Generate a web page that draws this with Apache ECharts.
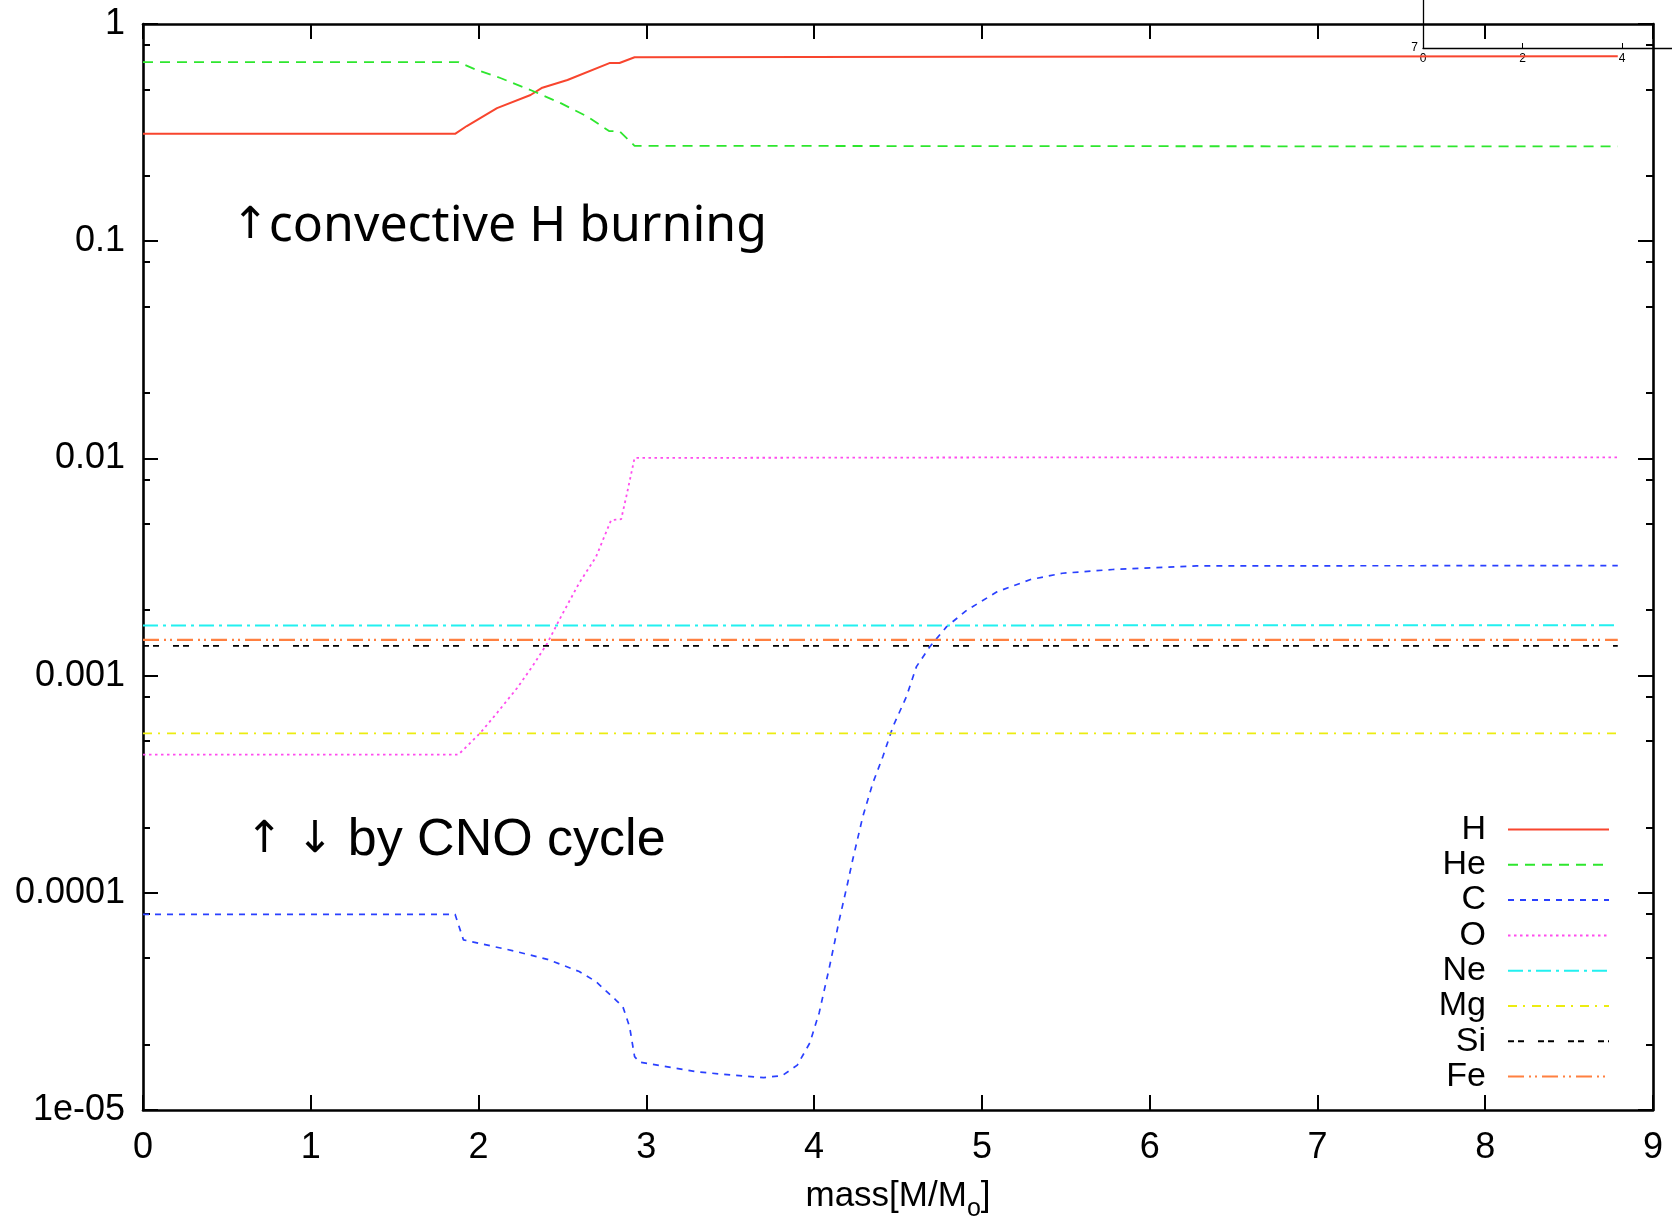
<!DOCTYPE html>
<html><head><meta charset="utf-8">
<script src="https://cdn.jsdelivr.net/npm/echarts@6/dist/echarts.min.js"></script>
<style>html,body{margin:0;padding:0;background:#fff}#c{width:1672px;height:1217px}</style>
</head><body><div id="c"></div>
<script>
// ---- data (mass coordinate in M/Msun, mass fraction) ----
const seriesNames = ['H', 'He', 'C', 'O', 'Ne', 'Mg', 'Si', 'Fe'];

const massH = [0, 1.86, 1.93, 2.0, 2.11, 2.31, 2.38, 2.53, 2.78, 2.84, 2.93, 5.0, 8.79];
const fracH = [0.312, 0.312, 0.339, 0.365, 0.41, 0.471, 0.509, 0.552, 0.661, 0.661, 0.703, 0.707, 0.71];

const massHe = [0, 1.88, 1.99, 2.13, 2.32, 2.49, 2.65, 2.78, 2.84, 2.93, 5.0, 8.79];
const fracHe = [0.667, 0.667, 0.614, 0.564, 0.493, 0.432, 0.374, 0.321, 0.321, 0.275, 0.274, 0.273];

const massC = [0, 1.86, 1.91, 2.21, 2.41, 2.50, 2.60, 2.70, 2.82, 2.86, 2.90, 2.93, 2.96, 3.30, 3.50, 3.70, 3.81, 3.90, 3.975, 4.03, 4.09, 4.15, 4.20, 4.23, 4.29, 4.35, 4.41, 4.47, 4.55, 4.61, 4.69, 4.79, 4.91, 5.09, 5.29, 5.48, 5.78, 6.28, 8.79];
const fracC = [7.96e-5, 7.96e-5, 6.07e-5, 5.4e-5, 4.94e-5, 4.65e-5, 4.34e-5, 3.9e-5, 3.2e-5, 2.99e-5, 2.42e-5, 1.76e-5, 1.66e-5, 1.5e-5, 1.45e-5, 1.41e-5, 1.44e-5, 1.61e-5, 2.04e-5, 2.8e-5, 4.5e-5, 7.5e-5, 1.11e-4, 1.42e-4, 2.24e-4, 3.2e-4, 4.24e-4, 5.82e-4, 8.0e-4, 1.1e-3, 1.36e-3, 1.68e-3, 2.0e-3, 2.43e-3, 2.77e-3, 2.96e-3, 3.08e-3, 3.2e-3, 3.21e-3];

const massO = [0, 1.88, 2.01, 2.11, 2.23, 2.32, 2.41, 2.49, 2.60, 2.70, 2.79, 2.85, 2.88, 2.93, 5.0, 8.79];
const fracO = [4.33e-4, 4.33e-4, 5.44e-4, 6.73e-4, 8.77e-4, 1.1e-3, 1.41e-3, 1.86e-3, 2.67e-3, 3.52e-3, 5.2e-3, 5.25e-3, 6.64e-3, 0.01005, 0.0101, 0.0101];

const massNe = [0, 8.79];
const fracNe = [1.70e-3, 1.705e-3];
const massMg = [0, 8.79];
const fracMg = [5.42e-4, 5.42e-4];
const massSi = [0, 8.79];
const fracSi = [1.37e-3, 1.37e-3];
const massFe = [0, 8.79];
const fracFe = [1.46e-3, 1.46e-3];

const xTickLabels = ['0', '1', '2', '3', '4', '5', '6', '7', '8', '9'];
const yTickLabels = ['1e-05', '0.0001', '0.001', '0.01', '0.1', '1'];
const insetXLabels = [0, 2, 4];
const insetYLabels = [7];

// ---- styles ----
const colors = {H: '#f8452e', He: '#2ee62e', C: '#2a40ff', O: '#ff4cee', Ne: '#22f0f0', Mg: '#ecec10', Si: '#000000', Fe: '#ff8040'};
const dashes = {
  H: 'solid', He: [10, 7], C: [6, 6], O: [2.5, 3.5], Ne: [15, 5, 3, 5],
  Mg: [9, 6, 2, 7], Si: [6, 4, 6, 14], Fe: [16, 5, 2, 4, 2, 5]
};
const widths = {H: 2, He: 1.8, C: 1.7, O: 1.8, Ne: 2, Mg: 1.6, Si: 1.6, Fe: 2.2};

const masses = {H: massH, He: massHe, C: massC, O: massO, Ne: massNe, Mg: massMg, Si: massSi, Fe: massFe};
const fracs = {H: fracH, He: fracHe, C: fracC, O: fracO, Ne: fracNe, Mg: fracMg, Si: fracSi, Fe: fracFe};

const zip = (xs, ys) => xs.map((x, i) => [x, ys[i]]);

// minor ticks at 2,5,8 within each decade (log10 positions)
const minorLog = [];
for (let k = -5; k < 0; k++) { [2, 5, 8].forEach(m => minorLog.push(k + Math.log10(m))); }

const FONT = 'Liberation Sans';
const axisLineStyle = {color: '#000', width: 2.6};

const chart = echarts.init(document.getElementById('c'), null, {renderer: 'canvas'});
const option = {
  animation: false,
  backgroundColor: '#ffffff',
  grid: [
    {left: 143, top: 24, right: 19, bottom: 107, outerBoundsMode: 'none'},
    {left: 1423, top: 0, width: 249, height: 48, outerBoundsMode: 'none'}
  ],
  xAxis: [
    {
      gridIndex: 0, type: 'value', min: 0, max: 9, interval: 1, position: 'bottom',
      axisLine: {onZero: false, lineStyle: axisLineStyle},
      axisTick: {inside: true, length: 15, lineStyle: {color: '#000', width: 2}},
      axisLabel: {fontSize: 36, fontFamily: FONT, color: '#000', margin: 20,
        formatter: v => xTickLabels[Math.round(v)]},
      splitLine: {show: false},
      name: '{a|mass[M/M}{s|o}{a|]}', nameLocation: 'middle', nameGap: 60,
      nameTextStyle: {rich: {
        a: {fontSize: 35, fontFamily: FONT, color: '#000'},
        s: {fontSize: 25, fontFamily: FONT, color: '#000', verticalAlign: 'bottom', lineHeight: 52}
      }}
    },
    {
      gridIndex: 0, type: 'value', min: 0, max: 9, interval: 1, position: 'top',
      axisLine: {onZero: false, lineStyle: axisLineStyle},
      axisTick: {inside: true, length: 15, lineStyle: {color: '#000', width: 2}},
      axisLabel: {show: false}, splitLine: {show: false}
    },
    {
      gridIndex: 1, type: 'value', min: 0, max: 5, position: 'bottom',
      axisLine: {onZero: false, lineStyle: {color: '#000', width: 1.3}},
      axisTick: {inside: true, length: 5, customValues: [2, 4], lineStyle: {color: '#000', width: 1}},
      axisLabel: {customValues: insetXLabels, fontSize: 12, fontFamily: FONT, color: '#000', margin: 5},
      splitLine: {show: false}
    }
  ],
  yAxis: [
    {
      gridIndex: 0, type: 'log', logBase: 10, min: 1e-5, max: 1, position: 'left',
      axisLine: {onZero: false, lineStyle: axisLineStyle},
      axisTick: {inside: true, length: 15, lineStyle: {color: '#000', width: 2}},
      axisLabel: {fontSize: 36, fontFamily: FONT, color: '#000', margin: 18,
        formatter: v => yTickLabels[Math.round(Math.log10(v)) + 5]},
      splitLine: {show: false}, minorTick: {show: false}
    },
    {
      gridIndex: 0, type: 'log', logBase: 10, min: 1e-5, max: 1, position: 'right',
      axisLine: {onZero: false, lineStyle: axisLineStyle},
      axisTick: {inside: true, length: 15, lineStyle: {color: '#000', width: 2}},
      axisLabel: {show: false}, splitLine: {show: false}
    },
    {
      gridIndex: 0, type: 'value', min: -5, max: 0, position: 'left',
      axisLine: {show: false, onZero: false},
      axisTick: {inside: true, length: 7, customValues: minorLog, lineStyle: {color: '#000', width: 2}},
      axisLabel: {show: false}, splitLine: {show: false}
    },
    {
      gridIndex: 0, type: 'value', min: -5, max: 0, position: 'right',
      axisLine: {show: false, onZero: false},
      axisTick: {inside: true, length: 7, customValues: minorLog, lineStyle: {color: '#000', width: 2}},
      axisLabel: {show: false}, splitLine: {show: false}
    },
    {
      gridIndex: 1, type: 'value', min: 7, max: 8, position: 'left',
      axisLine: {show: true, onZero: false, lineStyle: {color: '#000', width: 1.3}},
      axisTick: {show: false},
      axisLabel: {customValues: insetYLabels, fontSize: 12, fontFamily: FONT, color: '#000', margin: 5},
      splitLine: {show: false}
    }
  ],
  legend: {
    orient: 'vertical', right: 62, top: 812, align: 'right', padding: 0,
    itemWidth: 101, itemHeight: 20, itemGap: 0.3, selectedMode: false,
    itemStyle: {color: 'rgba(0,0,0,0)', borderWidth: 0, opacity: 0},
    textStyle: {fontSize: 34, fontFamily: FONT, color: '#000', width: 52, lineHeight: 35, padding: [0, 17, 0, 0]},
    data: seriesNames
  },
  graphic: [
    {type: 'text', x: 232, y: 227, z: 10, style: {
      text: '{a|↑}{t|convective H burning}', verticalAlign: 'middle',
      rich: {a: {fontSize: 44, fontFamily: 'DejaVu Sans', fill: '#000'},
             t: {fontSize: 50, fontFamily: 'Noto Sans', fill: '#000'}}
    }},
    {type: 'text', x: 246, y: 841, z: 10, style: {
      text: '{a|↑ ↓ }{t|by CNO cycle}', verticalAlign: 'middle',
      rich: {a: {fontSize: 44, fontFamily: 'DejaVu Sans', fill: '#000'},
             t: {fontSize: 52, fontFamily: FONT, fill: '#000'}}
    }}
  ],
  series: seriesNames.map(n => ({
    name: n, type: 'line', xAxisIndex: 0, yAxisIndex: 0,
    symbol: 'none', showSymbol: false, clip: true,
    lineStyle: {color: colors[n], width: widths[n], type: dashes[n]},
    itemStyle: {color: colors[n]},
    data: zip(masses[n], fracs[n])
  }))
};
chart.setOption(option);
</script></body></html>
